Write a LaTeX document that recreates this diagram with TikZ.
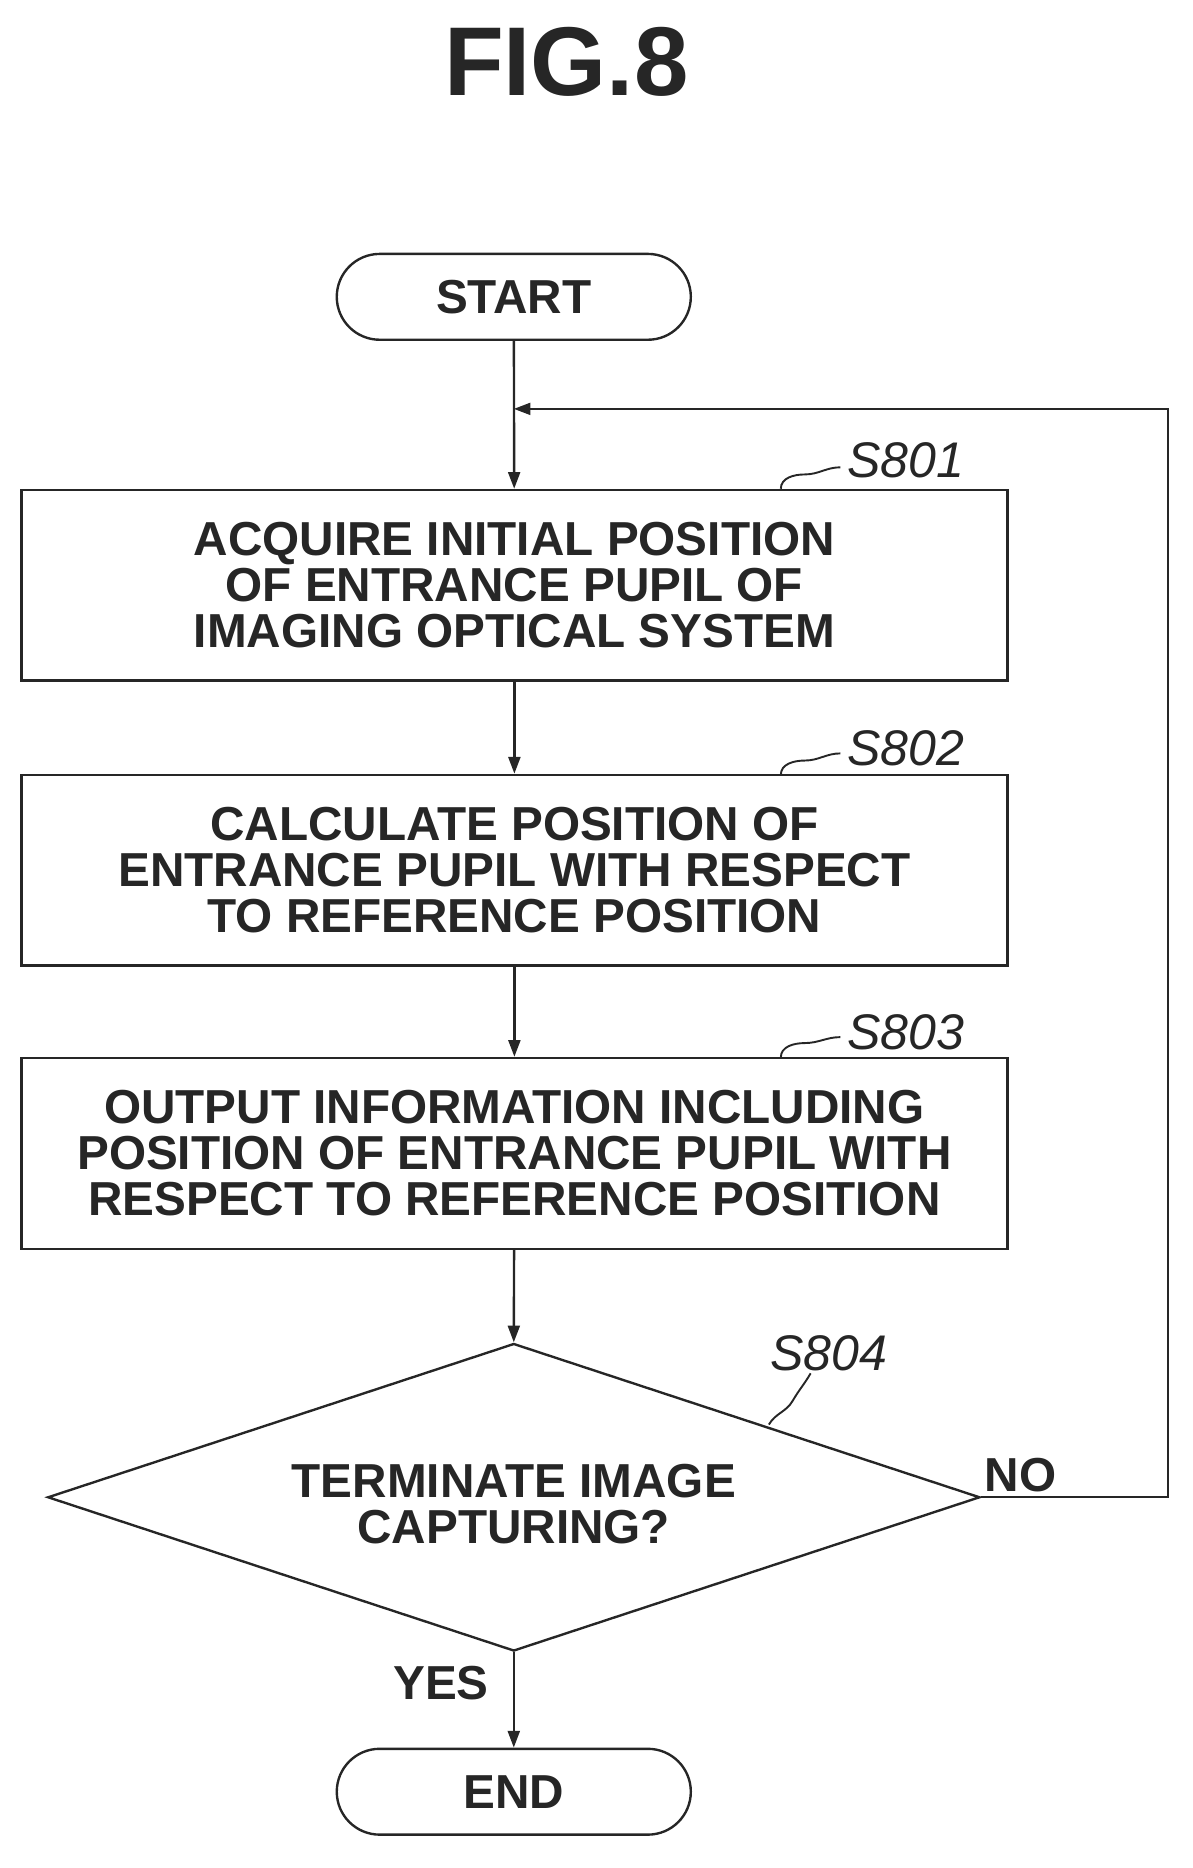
\documentclass[tikz,border=0pt]{standalone}
\usepackage{fontspec}
\setmainfont{Liberation Sans}
\usetikzlibrary{shapes.geometric,arrows.meta}
\begin{document}
\begin{tikzpicture}[x=0.5pt,y=-0.5pt,
  line width=1pt, draw=black!85,
  txt/.style={font=\fontsize{20}{19.2}\selectfont\bfseries, align=center, text=black!85},
  box/.style={draw, minimum width=413.5pt, minimum height=80pt, txt, inner sep=0pt},
  term/.style={draw, rounded corners=18pt, minimum width=148.5pt, minimum height=36pt, txt},
  lab/.style={font=\fontsize{21}{21}\selectfont\itshape, text=black!85},
  arr/.style={-{Triangle[length=7pt,width=5pt]}}]
\useasboundingbox (0,0) rectangle (1000,1567);
\node[font=\fontsize{41}{41}\selectfont\bfseries, text=black!85] (title) at (475,52) {FIG.8};
\node[term] (start) at (431,249) {START};
\node[box] (b1) at (431.5,491) {ACQUIRE INITIAL POSITION\\OF ENTRANCE PUPIL OF\\IMAGING OPTICAL SYSTEM};
\node[box] (b2) at (431.5,730) {CALCULATE POSITION OF\\ENTRANCE PUPIL WITH RESPECT\\TO REFERENCE POSITION};
\node[box] (b3) at (431.5,967.5) {OUTPUT INFORMATION INCLUDING\\POSITION OF ENTRANCE PUPIL WITH\\RESPECT TO REFERENCE POSITION};
\node[draw, diamond, minimum width=391pt, minimum height=129pt, aspect=3, inner sep=0pt] (d) at (431,1256) {};
\node[txt] (dt) at (431,1262) {TERMINATE IMAGE\\CAPTURING?};
\node[term] (end) at (431,1503) {END};
\coordinate (m) at (431,343);
\coordinate (r1) at (980,1256);
\coordinate (r2) at (980,343);
\draw[arr] (start) -- (b1);
\draw[arr] (b1) -- (b2);
\draw[arr] (b2) -- (b3);
\draw[arr] (b3) -- (d.north);
\draw[arr] (d.south) -- (end);
\draw[arr] (d.east) -- (r1) -- (r2) -- (m);
\node[txt] (no) at (856,1237) {NO};
\node[txt] (yes) at (370,1412) {YES};
\node[lab] (s1) at (760,386) {S801};
\node[lab] (s2) at (760,628) {S802};
\node[lab] (s3) at (760,866) {S803};
\node[lab] (s4) at (695,1135) {S804};
\draw[line width=0.8pt] (655,410) to[out=90,in=180] (675,398) to[out=0,in=180] (705,392);
\draw[line width=0.8pt] (655,650) to[out=90,in=180] (675,638) to[out=0,in=180] (705,632);
\draw[line width=0.8pt] (655,887) to[out=90,in=180] (675,875) to[out=0,in=180] (705,870);
\draw[line width=0.8pt] (645,1195) to[out=60,in=-120] (665,1175) to[out=60,in=-120] (680,1152);
\end{tikzpicture}
\end{document}
